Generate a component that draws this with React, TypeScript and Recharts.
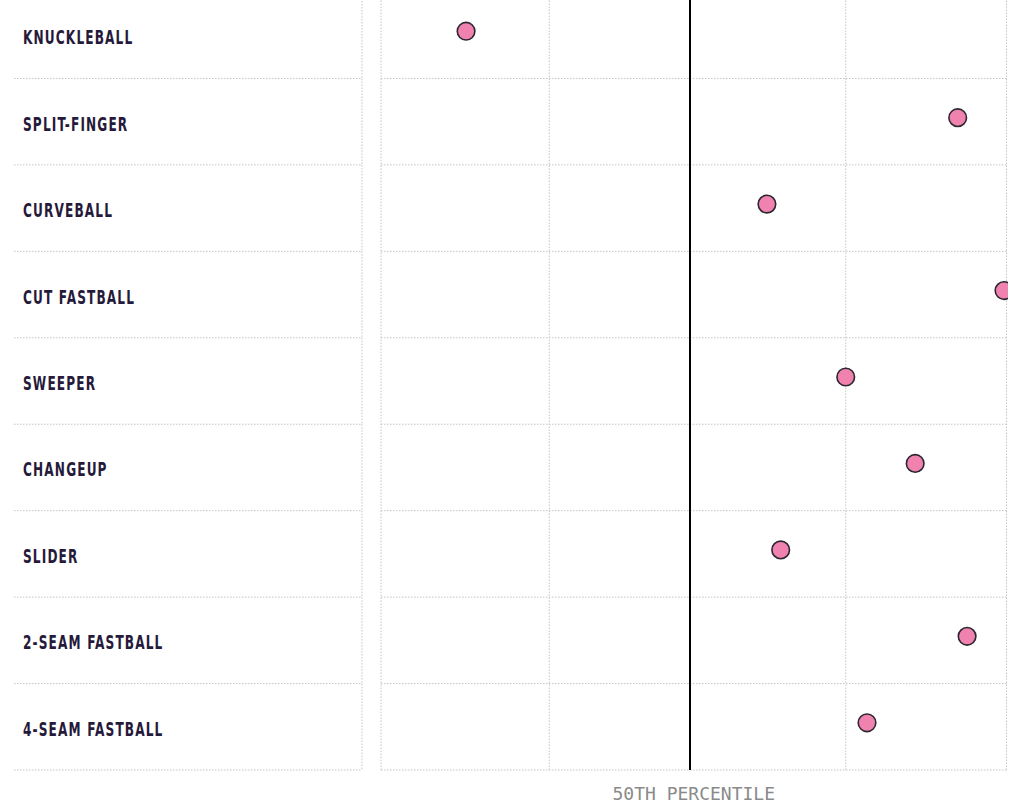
import React from 'react';
import { ScatterChart, Scatter, XAxis, YAxis, ReferenceLine } from 'recharts';

// ---- data ----
const PITCHES: string[] = [
  'KNUCKLEBALL',
  'SPLIT-FINGER',
  'CURVEBALL',
  'CUT FASTBALL',
  'SWEEPER',
  'CHANGEUP',
  'SLIDER',
  '2-SEAM FASTBALL',
  '4-SEAM FASTBALL',
];
const PERCENTILE_SCORES: number[] = [13.6, 92.2, 61.7, 99.6, 74.3, 85.4, 63.9, 93.7, 77.7];
const GRID_X: number[] = [0, 26.9, 74.3, 100];
const MEDIAN_X = 49.4;
const X_LABEL = '50TH PERCENTILE';

const data = PITCHES.map((pitch, i) => ({ pitch, value: PERCENTILE_SCORES[i], row: i + 0.5 }));
const rowTicks = PITCHES.map((_, i) => i + 0.5);
const rowBounds = PITCHES.map((_, i) => i);

// ---- layout / style ----
const CHART_W = 1008;
const CHART_H = 817;
const X_AXIS_H = 39;
const Y_AXIS_W = 381;
const PLOT_H = CHART_H - X_AXIS_H;
const ROW_H = PLOT_H / PITCHES.length;
const GRID_COLOR = '#c4c4c4';
const GRID_DASH = '1.5 1.5';

const RowTick = (props: any) => {
  const { y, payload } = props;
  const name = PITCHES[Math.floor(payload.value)];
  const half = ROW_H / 2;
  return (
    <g>
      <g transform={`translate(23, ${y + 9}) scale(0.71, 1.04)`}>
        <text
          x={0}
          y={0}
          fill="#261a3a"
          fontFamily="'DejaVu Sans Condensed', 'DejaVu Sans', sans-serif"
          fontWeight={700}
          fontSize={19}
          letterSpacing={1.6}
        >
          {name}
        </text>
      </g>
      <line x1={14} x2={362} y1={y + half} y2={y + half} stroke={GRID_COLOR} strokeDasharray={GRID_DASH} />
      <line x1={362} x2={362} y1={y - half} y2={y + half} stroke={GRID_COLOR} strokeDasharray={GRID_DASH} />
    </g>
  );
};

const Dot = (props: any) => {
  const { cx, cy } = props;
  return <circle cx={cx} cy={cy - 4} r={8.8} fill="#ef82ae" stroke="#2c2630" strokeWidth={1.6} />;
};

export default function App() {
  return (
    <div style={{ position: 'absolute', left: 0, top: -8 }}>
      <ScatterChart width={CHART_W} height={CHART_H} margin={{ top: 0, right: 1.5, bottom: 0, left: 0 }}>
        <XAxis
          type="number"
          dataKey="value"
          domain={[0, 100]}
          ticks={GRID_X}
          tick={false}
          tickLine={false}
          axisLine={false}
          height={X_AXIS_H}
          label={{
            value: X_LABEL,
            position: 'insideBottom',
            offset: 9,
            fill: '#8a8a8a',
            fontSize: 18,
            fontFamily: "'DejaVu Sans Mono', monospace",
          }}
        />
        <YAxis
          type="number"
          dataKey="row"
          domain={[0, PITCHES.length]}
          reversed
          ticks={rowTicks}
          interval={0}
          tick={<RowTick />}
          tickLine={false}
          axisLine={false}
          width={Y_AXIS_W}
        />
        {rowBounds.map((b) => (
          <ReferenceLine key={'h' + b} y={b + 1} stroke={GRID_COLOR} strokeDasharray={GRID_DASH} ifOverflow="visible" />
        ))}
        {GRID_X.map((gx) => (
          <ReferenceLine key={'v' + gx} x={gx} stroke={GRID_COLOR} strokeDasharray={GRID_DASH} ifOverflow="visible" />
        ))}
        <ReferenceLine x={MEDIAN_X} stroke="#000" strokeWidth={2} />
        <Scatter data={data} shape={<Dot />} isAnimationActive={false} />
      </ScatterChart>
    </div>
  );
}
